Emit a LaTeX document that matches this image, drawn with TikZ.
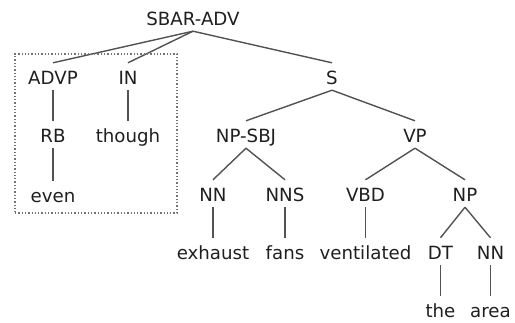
\documentclass[tikz,border=0pt]{standalone}
\usepackage{fontspec}
\setmainfont{DejaVu Sans}
\begin{document}
\begin{tikzpicture}[x=1pt,y=-1pt,
  lab/.style={anchor=base,inner sep=0pt,text height=22pt,text depth=5pt,
    font=\fontsize{18.2}{20}\selectfont,text=black!88},
  edge/.style={draw=black!68,line width=1.4pt}]
\useasboundingbox (0,0) rectangle (515,323);
\node[lab] (sbar) at (193,26) {SBAR-ADV};
\node[lab] (advp) at (53,85) {ADVP};
\node[lab] (in) at (128,85) {IN};
\node[lab] (s) at (332,85) {S};
\node[lab] (rb) at (53,143) {RB};
\node[lab] (though) at (128,143) {though};
\node[lab] (npsbj) at (246,143) {NP-SBJ};
\node[lab] (vp) at (415,143) {VP};
\node[lab] (even) at (53,203) {even};
\node[lab] (nn1) at (213,202) {NN};
\node[lab] (nns) at (285,202) {NNS};
\node[lab] (vbd) at (365.5,202) {VBD};
\node[lab] (np) at (465,202) {NP};
\node[lab] (exhaust) at (213,260) {exhaust};
\node[lab] (fans) at (285,260) {fans};
\node[lab] (vent) at (365.5,260) {ventilated};
\node[lab] (dt) at (440.5,260) {DT};
\node[lab] (nn2) at (490.5,260) {NN};
\node[lab] (the) at (440.5,318) {the};
\node[lab] (area) at (490.5,318) {area};
\foreach \a/\b in {sbar/advp,sbar/in,sbar/s,advp/rb,rb/even,in/though,
  s/npsbj,s/vp,npsbj/nn1,npsbj/nns,nn1/exhaust,nns/fans,vp/vbd,vp/np,
  vbd/vent,np/dt,np/nn2,dt/the,nn2/area}
  \draw[edge] (\a.south) -- (\b.north);
\node[draw=black!55,dotted,line width=1.3pt,inner sep=0pt,
  minimum width=162pt,minimum height=159pt] (box) at (96,133.5) {};
\end{tikzpicture}
\end{document}
